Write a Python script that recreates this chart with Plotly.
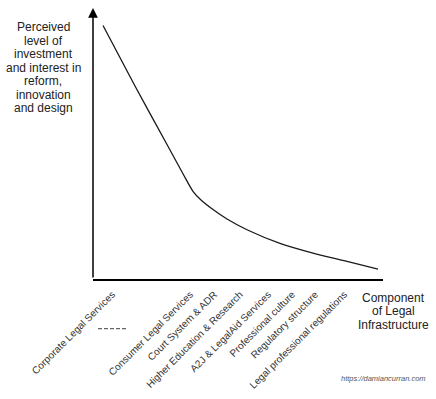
import plotly.graph_objects as go

# ---- data ----
curve_x = [3.45, 14.48, 25.52, 31.03, 34.48, 37.24, 41.03, 46.21, 53.10, 64.48, 75.86, 87.59, 98.28]
curve_y = [93.53, 71.22, 49.64, 38.85, 32.37, 29.14, 25.90, 22.12, 18.17, 13.13, 9.53, 6.47, 3.60]

components = [
    "Corporate Legal Services",
    "Consumer Legal Services",
    "Court System & ADR",
    "Higher Education & Research",
    "A2J & LegalAid Services",
    "Professional culture",
    "Regulatory structure",
    "Legal professional regulations",
]
component_pos = [6.6, 33.5, 41.8, 50.7, 60.4, 68.7, 76.6, 86.6]

y_title_lines = ["Perceived", "level of", "investment", "and interest in",
                 "reform,", "innovation", "and design"]
x_title_lines = ["Component", "of Legal", "Infrastructure"]

# ---- layout geometry ----
W, H = 436, 399
ML, MR, MT, MB = 93, 53, 8, 113
PW, PH = W - ML - MR, H - MT - MB
FONT = "Liberation Sans, Arial, sans-serif"


def px_x(p):
    return (p - ML) / PW


def px_y(p):
    return (H - MB - p) / PH


fig = go.Figure()
fig.add_trace(go.Scatter(
    x=curve_x, y=curve_y, mode="lines",
    line=dict(color="#1a1a1a", width=1.3, shape="spline", smoothing=0.8),
    hoverinfo="skip", showlegend=False,
))

annotations = []
# y axis arrow
annotations.append(dict(x=0, y=100, ax=0, ay=0, xref="x", yref="y", axref="x", ayref="y",
                        text="", showarrow=True, arrowhead=2, arrowsize=1.3,
                        arrowwidth=1.5, arrowcolor="black", standoff=0))
for i, t in enumerate(y_title_lines):
    annotations.append(dict(x=px_x(43), y=px_y(28 + 13.83 * i), xref="paper", yref="paper",
                            text=t, showarrow=False, xanchor="center", yanchor="middle",
                            font=dict(family=FONT, size=12, color="#222")))
for i, t in enumerate(x_title_lines):
    annotations.append(dict(x=px_x(393), y=px_y(305 + 14 * i), xref="paper", yref="paper",
                            text=t, showarrow=False, xanchor="center", yanchor="middle",
                            font=dict(family=FONT, size=12, color="#222")))
annotations.append(dict(x=px_x(384), y=px_y(388), xref="paper", yref="paper",
                        text="https://damiancurran.com", showarrow=False,
                        xanchor="center", yanchor="middle",
                        font=dict(family=FONT, size=7.5, color="#555", style="italic")))

fig.add_shape(type="line", xref="paper", yref="paper",
              x0=px_x(98), x1=px_x(126), y0=px_y(337), y1=px_y(337),
              line=dict(color="#666", width=1.3, dash="4px,2px"))

fig.update_layout(
    width=W, height=H,
    margin=dict(l=ML, r=MR, t=MT, b=MB, pad=0),
    paper_bgcolor="white", plot_bgcolor="white",
    annotations=annotations,
    xaxis=dict(range=[0, 100], showgrid=False, zeroline=False, showline=True,
               linecolor="black", linewidth=1.5, ticks="",
               tickvals=component_pos, ticktext=components, tickangle=-45,
               ticklabelstandoff=4,
               tickfont=dict(family=FONT, size=10, color="#333"), fixedrange=True),
    yaxis=dict(range=[0, 100], showgrid=False, zeroline=False, showline=False,
               showticklabels=False, ticks="", fixedrange=True),
    showlegend=False,
)

fig.write_html("out.html", config={"displayModeBar": False},
               post_script="document.body.style.margin='0';")
